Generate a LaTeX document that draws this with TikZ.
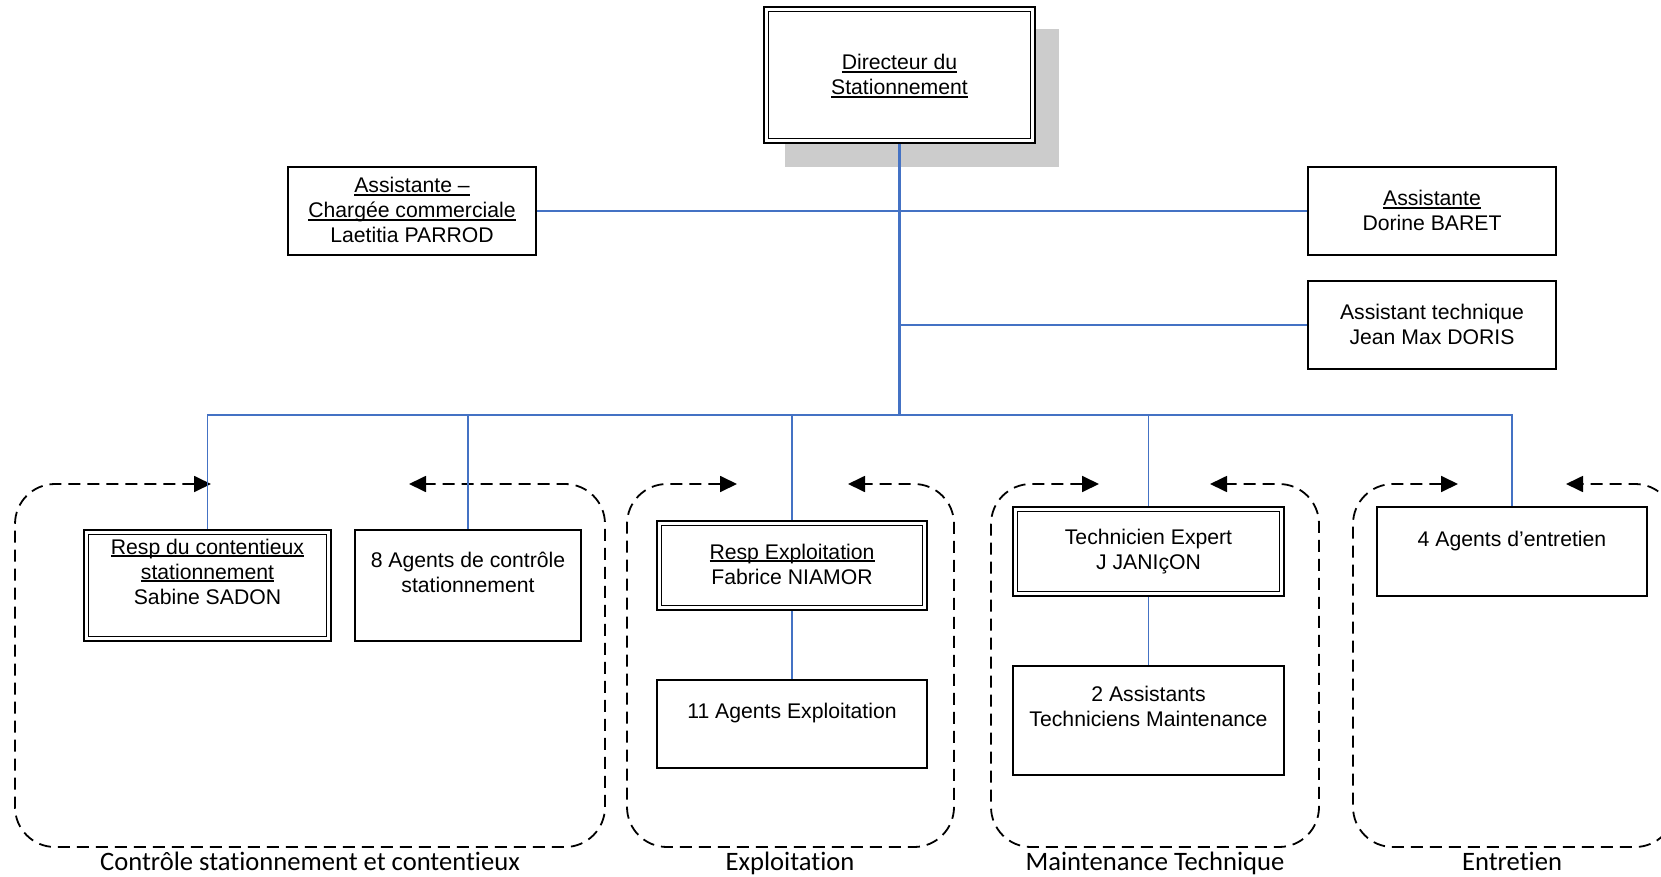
\documentclass[tikz,border=0pt]{standalone}
\usepackage{fontspec}
\setmainfont{Liberation Sans}
\newfontfamily\calib{Carlito}[Ligatures=NoCommon]
\usetikzlibrary{arrows.meta}
\definecolor{conn}{RGB}{68,114,196}
\definecolor{shad}{RGB}{204,204,204}
\newsavebox{\ulbox}
\newcommand{\myul}[1]{\sbox{\ulbox}{#1}\rlap{\rule[-2.6pt]{\wd\ulbox}{1.3pt}}\usebox{\ulbox}}
\newcommand{\bt}[4]{\parbox[c][#2pt][t]{#1pt}{\centering\vspace*{#3pt}#4}}
\begin{document}
\begin{tikzpicture}[x=1pt,y=-1pt,
  box/.style={draw, line width=1.8pt, fill=white, inner sep=0pt, font=\fontsize{21.2}{25}\selectfont},
  inbox/.style={line width=1.1pt},
  link/.style={draw=conn, line width=1.8pt},
  grp/.style={dash pattern=on 12pt off 7pt, line width=1.8pt, rounded corners=40pt,
    {Triangle[length=17pt,width=16pt]}-{Triangle[length=17pt,width=16pt]}},
  glabel/.style={font=\calib\fontsize{26.6}{30}\selectfont, anchor=base, inner sep=0pt}]
\useasboundingbox (0,0) rectangle (1661,877);
\clip (0,0) rectangle (1661,877);

% dashed groups
\draw[grp] (211,484) -- (15,484) -- (15,847) -- (605,847) -- (605,484) -- (409,484);
\draw[grp] (737,484) -- (627,484) -- (627,847) -- (954,847) -- (954,484) -- (848,484);
\draw[grp] (1099,484) -- (991,484) -- (991,847) -- (1319,847) -- (1319,484) -- (1210,484);
\draw[grp] (1458,484) -- (1353,484) -- (1353,847) -- (1675,847) -- (1675,484) -- (1566,484);

% shadow of director box
\fill[shad] (785,29) rectangle (1059,167);

% boxes
\node[box] (dir) at (899.5,75) {\bt{271}{136}{45.5}{\strut\myul{Directeur du}\\\strut\myul{Stationnement}}};
\node[box] (asst1) at (412,211) {\bt{248}{88}{8.5}{\strut\myul{Assistante –}\\\strut\myul{Chargée commerciale}\\\strut Laetitia PARROD}};
\node[box] (asstB) at (1432,211) {\bt{248}{88}{21.5}{\strut\myul{Assistante}\\\strut Dorine BARET}};
\node[box] (asstT) at (1432,325) {\bt{248}{88}{20.5}{\strut Assistant technique\\\strut Jean Max DORIS}};
\node[box] (respC) at (207.5,585.5) {\bt{247}{111}{6.5}{\strut\myul{Resp du contentieux}\\\strut\myul{stationnement}\\\strut Sabine SADON}};
\node[box] (agents8) at (468,585.5) {\bt{226}{111}{19.5}{\strut 8 Agents de contrôle\\\strut stationnement}};
\node[box] (respE) at (792,565.5) {\bt{270}{89}{20.5}{\strut\myul{Resp Exploitation}\\\strut Fabrice NIAMOR}};
\node[box] (agents11) at (792,724) {\bt{270}{88}{20.5}{\strut 11 Agents Exploitation}};
\node[box] (tech) at (1148.5,551.5) {\bt{271}{89}{19.5}{\strut Technicien Expert\\\strut J JANIçON}};
\node[box] (assist2) at (1148.5,720.5) {\bt{271}{109}{17.5}{\strut 2 Assistants\\\strut Techniciens Maintenance}};
\node[box] (agents4) at (1512,551.5) {\bt{270}{89}{21.5}{\strut 4 Agents d’entretien}};

% inner lines of double boxes
\foreach \n in {dir,respC,respE,tech}
  \draw[inbox] ([xshift=5pt,yshift=-5pt]\n.north west) rectangle ([xshift=-5pt,yshift=5pt]\n.south east);

% connectors
\coordinate (bus) at (899.5,415);
\draw[link, line width=2.6pt] (dir.south) -- (bus);
\draw[link] (asst1.east) -- (asstB.west);
\draw[link] (asstT.west) -- (asstT.west -| dir.south);
\draw[link] (respC.north) -- (respC.north |- bus) -- (agents4.north |- bus) -- (agents4.north);
\draw[link] (agents8.north) -- (agents8.north |- bus);
\draw[link] (respE.north) -- (respE.north |- bus);
\draw[link] (tech.north) -- (tech.north |- bus);
\draw[link] (respE.south) -- (agents11.north);
\draw[link] (tech.south) -- (assist2.north);

% group labels
\node[glabel] (l1) at (310,870) {Contrôle stationnement et contentieux};
\node[glabel] (l2) at (790,870) {Exploitation};
\node[glabel] (l3) at (1155,870) {Maintenance Technique};
\node[glabel] (l4) at (1512,870) {Entretien};
\end{tikzpicture}
\end{document}
